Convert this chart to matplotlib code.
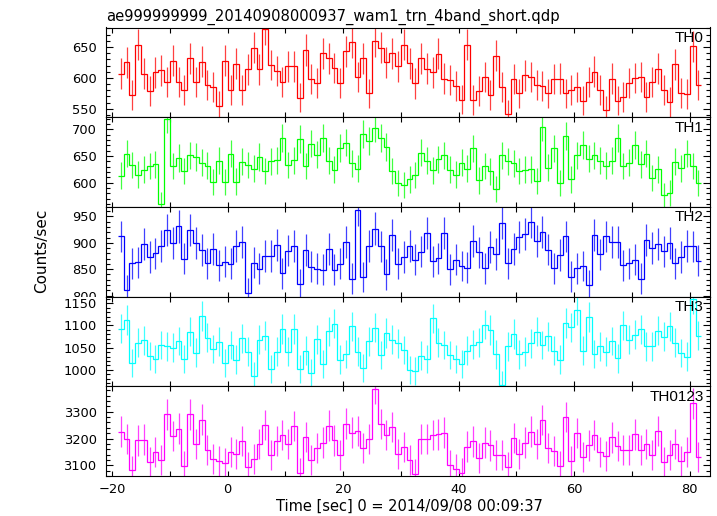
import numpy as np
import matplotlib
matplotlib.use("Agg")
import matplotlib.pyplot as plt
from matplotlib.ticker import MultipleLocator
from matplotlib.transforms import Bbox, TransformedBbox

plt.rcParams['font.family'] = ['DejaVu Sans']

title = "ae999999999_20140908000937_wam1_trn_4band_short.qdp"
xlabel = "Time [sec] 0 = 2014/09/08 00:09:37"
ylabel = "Counts/sec"

# 1-s bins, centres -18.5 ... 81.5
t_start = -19.0
bin_width = 1.0

th0 = [607, 625, 572, 654, 607, 579, 609, 612, 594, 628,
       594, 580, 632, 593, 626, 589, 586, 555, 628, 580,
       623, 581, 614, 649, 614, 679, 621, 611, 594, 619,
       619, 568, 645, 598, 592, 640, 632, 616, 592, 643,
       658, 602, 632, 575, 659, 649, 625, 640, 619, 654,
       624, 591, 632, 615, 609, 639, 599, 596, 587, 565,
       654, 564, 579, 601, 572, 636, 585, 541, 598, 575,
       604, 601, 588, 587, 575, 598, 599, 575, 581, 585,
       563, 593, 610, 580, 548, 599, 563, 569, 592, 600,
       601, 569, 594, 615, 580, 561, 622, 576, 574, 651, 589]

th1 = [613, 654, 633, 615, 624, 631, 634, 559, 719, 631,
       646, 622, 651, 648, 637, 632, 601, 641, 601, 654,
       602, 639, 633, 626, 648, 622, 640, 642, 684, 633,
       642, 682, 631, 673, 652, 684, 641, 624, 665, 675,
       636, 626, 691, 678, 703, 683, 667, 622, 600, 596,
       606, 614, 656, 641, 623, 644, 651, 624, 615, 637,
       626, 664, 604, 631, 621, 588, 651, 640, 636, 622,
       624, 625, 603, 704, 628, 664, 599, 688, 606, 651,
       671, 645, 651, 641, 632, 641, 683, 631, 637, 671,
       634, 654, 609, 625, 576, 581, 639, 627, 654, 631, 599]

th2 = [912, 810, 861, 863, 898, 873, 880, 894, 925, 899,
       931, 870, 924, 899, 886, 861, 888, 857, 864, 860,
       894, 901, 804, 862, 851, 875, 875, 896, 842, 885,
       894, 821, 886, 855, 851, 849, 888, 849, 860, 901,
       832, 963, 835, 894, 927, 893, 840, 914, 860, 873,
       894, 868, 883, 918, 865, 871, 918, 850, 868, 856,
       853, 904, 882, 852, 892, 879, 938, 861, 888, 911,
       917, 939, 903, 921, 887, 852, 877, 912, 836, 852,
       856, 820, 914, 878, 912, 902, 902, 857, 861, 868,
       832, 905, 890, 898, 884, 899, 861, 873, 894, 893, 866]

th3 = [1093, 1113, 1015, 1061, 1067, 1031, 1025, 1056, 1053, 1050,
       1065, 1025, 1086, 1039, 1121, 1072, 1047, 1063, 1015, 1056,
       1023, 1071, 1041, 987, 1068, 1077, 1002, 1041, 1092, 1041,
       1092, 1002, 1043, 993, 1069, 1014, 1087, 1104, 1023, 1036,
       1098, 1041, 1005, 1064, 1095, 1033, 1083, 1068, 1060, 1045,
       999, 997, 1032, 1025, 1116, 1061, 1056, 1033, 1024, 1014,
       1043, 1057, 1062, 1102, 1090, 1035, 966, 1053, 1081, 1035,
       1041, 1060, 1086, 1056, 1076, 1043, 1023, 1105, 1096, 1135,
       1043, 1119, 1036, 1053, 1041, 1065, 1026, 1100, 1068, 1079,
       1091, 1053, 1053, 1088, 1075, 1098, 1061, 1038, 1030, 1159, 1077]

th0123 = [3226, 3199, 3081, 3193, 3196, 3112, 3148, 3119, 3290, 3209,
          3237, 3098, 3290, 3179, 3270, 3156, 3122, 3117, 3109, 3151,
          3143, 3190, 3093, 3122, 3179, 3251, 3140, 3190, 3212, 3178,
          3246, 3073, 3206, 3119, 3163, 3185, 3248, 3193, 3140, 3256,
          3222, 3228, 3163, 3198, 3386, 3254, 3212, 3243, 3142, 3167,
          3120, 3068, 3199, 3199, 3212, 3215, 3222, 3100, 3085, 3072,
          3170, 3189, 3126, 3185, 3174, 3138, 3138, 3093, 3201, 3143,
          3185, 3226, 3179, 3269, 3164, 3154, 3096, 3280, 3115, 3220,
          3131, 3174, 3212, 3148, 3136, 3204, 3172, 3156, 3156, 3215,
          3157, 3179, 3137, 3227, 3112, 3138, 3180, 3115, 3151, 3332, 3130]

series = [th0, th1, th2, th3, th0123]
labels = ["TH0", "TH1", "TH2", "TH3", "TH0123"]
colors = ["#ff0000", "#00ff00", "#0000ff", "#00ffff", "#ff00ff"]
ylims = [(536.5, 681.5), (554.5, 722.5), (798, 968), (963, 1165), (3060, 3395)]
ymajor = [50, 50, 50, 50, 100]
yminor = [10, 10, 10, 10, 20]

W, H = 717, 516
fig = plt.figure(figsize=(W / 100, H / 100), dpi=100)

left_px, right_px = 106.3, 710.0
top_px, bottom_px = 27.5, 476.0
ph = (bottom_px - top_px) / 5

xlim = (-21.0, 83.5)

axes = []
for i, (vals, lab, col) in enumerate(zip(series, labels, colors)):
    vals = np.asarray(vals, dtype=float)
    n = len(vals)
    edges = t_start + bin_width * np.arange(n + 1)
    centers = 0.5 * (edges[:-1] + edges[1:])
    err = np.sqrt(vals)
    y0 = top_px + i * ph
    ax = fig.add_axes([left_px / W, 1 - (y0 + ph) / H, (right_px - left_px) / W, ph / H])
    ax.errorbar(centers, vals, yerr=err, fmt='none', ecolor=col, elinewidth=0.9,
                capsize=0, alpha=0.75, zorder=2)
    ax.stairs(vals, edges, color=col, linewidth=0.9, baseline=None, zorder=3)
    ax.set_xlim(*xlim)
    ax.set_ylim(*ylims[i])
    ax.xaxis.set_major_locator(MultipleLocator(20))
    ax.xaxis.set_minor_locator(MultipleLocator(10))
    ax.yaxis.set_major_locator(MultipleLocator(ymajor[i]))
    ax.yaxis.set_minor_locator(MultipleLocator(yminor[i]))
    ax.tick_params(axis='both', which='both', direction='in', top=True, right=True,
                   width=0.8, colors='black', labelsize=9.4)
    ax.tick_params(axis='y', which='major', length=5, pad=7)
    ax.tick_params(axis='y', which='minor', length=3)
    ax.tick_params(axis='x', which='both', length=3.6, pad=5)
    for s in ax.spines.values():
        s.set_linewidth(0.8)
    if i < 4:
        ax.tick_params(axis='x', labelbottom=False)
    ax.text(1 - 6.5 / (right_px - left_px), 1 - 3.5 / ph, lab, transform=ax.transAxes,
            ha='right', va='top', fontsize=11, family=['Liberation Sans', 'DejaVu Sans'])
    axes.append((ax, y0))

fig.text(106.5 / W, 1 - 20.5 / H, title, ha='left', va='baseline', fontsize=10.6)
fig.text(409 / W, 1 - 511 / H, xlabel, ha='center', va='baseline', fontsize=10.5)
fig.text(42 / W, 1 - 251 / H, ylabel, ha='center', va='center', rotation=90, fontsize=11)

# clip each panel's y tick labels to its own row, as in the original plot
fig.canvas.draw()
for ax, y0 in axes:
    clip = TransformedBbox(Bbox([[0, 1 - (y0 + ph) / H], [1, 1 - y0 / H]]), fig.transFigure)
    for t in ax.yaxis.get_majorticklabels():
        t.set_clip_box(clip)
        t.set_clip_on(True)

fig.savefig("out.png", dpi=100)
